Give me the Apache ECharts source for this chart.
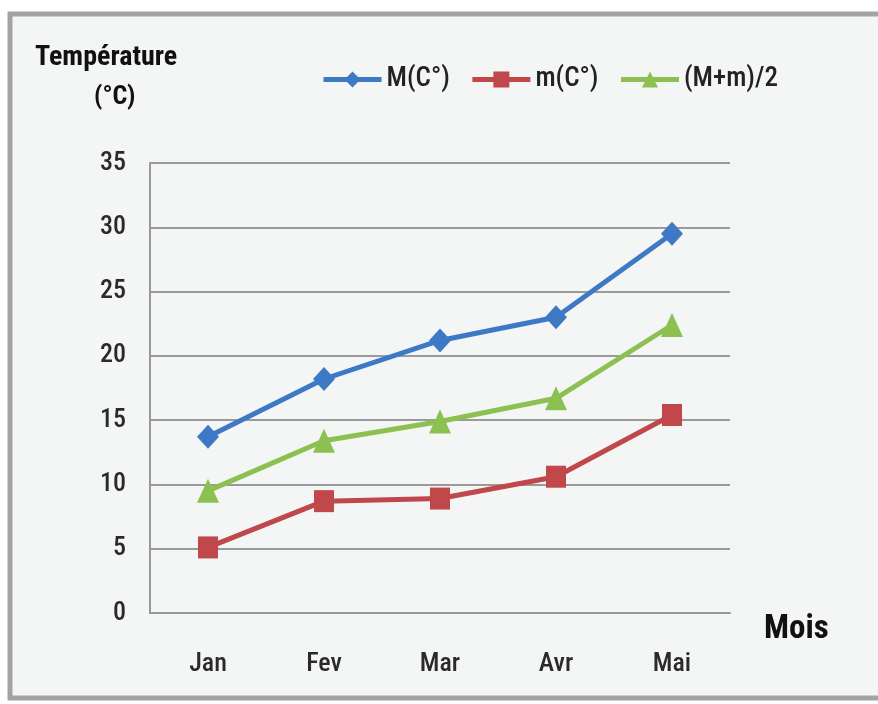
<!DOCTYPE html>
<html>
<head>
<meta charset="utf-8">
<script src="https://cdn.jsdelivr.net/npm/echarts@6/dist/echarts.min.js"></script>
<style>
html,body{margin:0;padding:0;background:#fff;}
#c{width:878px;height:704px;}
</style>
</head>
<body>
<div id="c"></div>
<script>
const categories = ['Jan', 'Fev', 'Mar', 'Avr', 'Mai'];
const maxTemp = [13.7, 18.2, 21.2, 23.0, 29.5];
const minTemp = [5.1, 8.7, 8.9, 10.6, 15.4];
const avgTemp = [9.5, 13.4, 14.9, 16.7, 22.4];
const seriesNames = ['M(C°)', 'm(C°)', '(M+m)/2'];

const FONT = '"Liberation Sans Narrow", "Roboto Condensed", "Open Sans", sans-serif';
const chart = echarts.init(document.getElementById('c'), null, {renderer: 'canvas'});
const lineW = 5;
chart.setOption({
  animation: false,
  backgroundColor: '#ffffff',
  graphic: [
    {type: 'rect', z: -10, shape: {x: 10, y: 14, width: 880, height: 684},
     style: {fill: '#f4f5f5', stroke: '#a3a3a3', lineWidth: 5}},
    {type: 'text', left: 35, top: 44, style: {text: 'Température', font: 'bold 28px ' + FONT, fill: '#111'}},
    {type: 'text', left: 94, top: 84, style: {text: '(°C)', font: 'bold 26px ' + FONT, fill: '#111'}}
  ],
  legend: {
    top: 61, left: 316,
    itemWidth: 58, itemHeight: 20, itemGap: 20,
    lineStyle: {width: 5},
    textStyle: {fontFamily: FONT, fontSize: 27, fontWeight: 500, color: '#222'},
    data: seriesNames
  },
  grid: {left: 150, right: 148, top: 163, bottom: 91},
  xAxis: {
    type: 'category', data: categories, boundaryGap: true,
    name: 'Mois', nameLocation: 'end', nameGap: 34,
    nameTextStyle: {fontFamily: FONT, fontSize: 33, fontWeight: 'bold', color: '#111', verticalAlign: 'top'},
    axisLine: {lineStyle: {color: '#999', width: 2}},
    axisTick: {show: false},
    axisLabel: {fontFamily: FONT, fontSize: 26, fontWeight: 500, color: '#2a2a2a', margin: 38}
  },
  yAxis: {
    type: 'value', min: 0, max: 35, interval: 5,
    axisLine: {show: true, lineStyle: {color: '#999', width: 2}},
    axisTick: {show: false},
    splitLine: {lineStyle: {color: '#9a9a9a', width: 2}},
    axisLabel: {fontFamily: FONT, fontSize: 26, fontWeight: 500, color: '#2a2a2a', margin: 24}
  },
  series: [
    {name: seriesNames[0], type: 'line', data: maxTemp, symbol: 'diamond', symbolSize: [22, 24],
     color: '#3e79c6', lineStyle: {width: lineW}},
    {name: seriesNames[1], type: 'line', data: minTemp, symbol: 'rect', symbolSize: [20, 22],
     color: '#c0474a', lineStyle: {width: lineW}},
    {name: seriesNames[2], type: 'line', data: avgTemp, symbol: 'triangle', symbolSize: [22, 24],
     color: '#8cc152', lineStyle: {width: lineW}}
  ]
});
</script>
</body>
</html>
